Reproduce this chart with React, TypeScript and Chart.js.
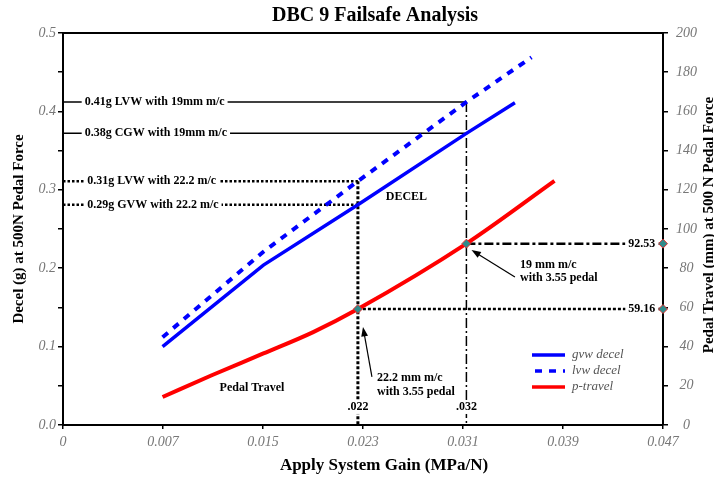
import React, { useEffect, useRef } from 'react';
import { Chart, registerables } from 'chart.js';

Chart.register(...registerables);

const SERIF = "'Liberation Serif', 'Times New Roman', 'DejaVu Serif', serif";

const TITLE = 'DBC 9 Failsafe Analysis';
const X_TITLE = 'Apply System Gain (MPa/N)';
const Y_TITLE = 'Decel (g) at 500N Pedal Force';
const Y2_TITLE = 'Pedal Travel (mm) at 500 N Pedal Force';

// x axis: evenly spaced ticks with the printed labels
const xTickValues = [0, 0.00783, 0.01567, 0.0235, 0.03133, 0.03917, 0.047];
const xTickLabels = ['0', '0.007', '0.015', '0.023', '0.031', '0.039', '0.047'];
const yTickLabels = ['0.0', '0.1', '0.2', '0.3', '0.4', '0.5'];

// gvw decel (solid blue)
const gvwGain = [0.0078, 0.0157, 0.0231, 0.0316, 0.0354];
const gvwDecel = [0.1, 0.204, 0.281, 0.372, 0.411];
// lvw decel (dashed blue)
const lvwGain = [0.0078, 0.0157, 0.0231, 0.0316, 0.0367];
const lvwDecel = [0.112, 0.221, 0.311, 0.412, 0.469];
// pedal travel (red, right axis)
const travelGain = [0.0078, 0.0117, 0.0157, 0.0196, 0.0231, 0.0316, 0.0385];
const pedalTravel = [14.3, 25.5, 36.5, 47.4, 59.16, 92.53, 124.5];

// reference decel levels
const refDecel = [0.412, 0.372, 0.311, 0.281];
const refEndGain = [0.0316, 0.0316, 0.0231, 0.0231];
const refLabels = [
  '0.41g LVW with 19mm m/c',
  '0.38g CGW with 19mm m/c',
  '0.31g LVW with 22.2 m/c',
  '0.29g GVW with 22.2 m/c',
];
const refLabelGain = [0.0017, 0.0017, 0.0019, 0.0019];

// marked operating points
const markGain = [0.0231, 0.0316];
const markGainLabels = ['.022', '.032'];
const markTravel = [59.16, 92.53];
const markTravelLabels = ['59.16', '92.53'];
const X_MAX = 0.047;

const pts = (xs: number[], ys: number[]) => xs.map((x, i) => ({ x, y: ys[i] }));

function boxText(ctx: CanvasRenderingContext2D, text: string, px: number, py: number, align: CanvasTextAlign) {
  const w = ctx.measureText(text).width;
  const left = align === 'left' ? px : align === 'right' ? px - w : px - w / 2;
  ctx.fillStyle = '#fff';
  ctx.fillRect(left - 3, py - 7, w + 6, 14);
  ctx.fillStyle = '#000';
  ctx.textAlign = align;
  ctx.textBaseline = 'middle';
  ctx.fillText(text, px, py);
}

function arrow(ctx: CanvasRenderingContext2D, x0: number, y0: number, x1: number, y1: number) {
  ctx.strokeStyle = '#000';
  ctx.fillStyle = '#000';
  ctx.lineWidth = 1.2;
  ctx.setLineDash([]);
  const a = Math.atan2(y1 - y0, x1 - x0);
  const L = 10;
  const W = 0.35;
  ctx.beginPath();
  ctx.moveTo(x0, y0);
  ctx.lineTo(x1 - 6 * Math.cos(a), y1 - 6 * Math.sin(a));
  ctx.stroke();
  ctx.beginPath();
  ctx.moveTo(x1, y1);
  ctx.lineTo(x1 - L * Math.cos(a - W), y1 - L * Math.sin(a - W));
  ctx.lineTo(x1 - L * Math.cos(a + W), y1 - L * Math.sin(a + W));
  ctx.closePath();
  ctx.fill();
}

const annotPlugin = {
  id: 'annot',
  afterDatasetsDraw(chart: any) {
    const { ctx, chartArea: ca, scales } = chart;
    const xs = scales.x;
    const ys = scales.y;
    const y1 = scales.y1;
    ctx.save();
    // top frame line
    ctx.strokeStyle = '#000';
    ctx.lineWidth = 2;
    ctx.setLineDash([]);
    ctx.beginPath();
    ctx.moveTo(ca.left, ca.top);
    ctx.lineTo(ca.right + 1, ca.top);
    ctx.stroke();

    ctx.font = `bold 12px ${SERIF}`;
    refLabels.forEach((t, i) => {
      boxText(ctx, t, xs.getPixelForValue(refLabelGain[i]), ys.getPixelForValue(refDecel[i]), 'left');
    });
    markTravelLabels.forEach((t, i) => {
      boxText(ctx, t, xs.getPixelForValue(0.0464), y1.getPixelForValue(markTravel[i]), 'right');
    });
    markGainLabels.forEach((t, i) => {
      boxText(ctx, t, xs.getPixelForValue(markGain[i]), ys.getPixelForValue(0.023), 'center');
    });

    ctx.fillStyle = '#000';
    ctx.textBaseline = 'middle';
    ctx.textAlign = 'center';
    ctx.fillText('DECEL', xs.getPixelForValue(0.0269), ys.getPixelForValue(0.291));
    ctx.fillText('Pedal Travel', xs.getPixelForValue(0.0148), y1.getPixelForValue(18.9));
    ctx.textAlign = 'left';
    ctx.fillText('22.2 mm m/c', xs.getPixelForValue(0.0246), y1.getPixelForValue(24));
    ctx.fillText('with 3.55 pedal', xs.getPixelForValue(0.0246), y1.getPixelForValue(16.8));
    ctx.fillText('19 mm m/c', xs.getPixelForValue(0.0358), y1.getPixelForValue(81.6));
    ctx.fillText('with 3.55 pedal', xs.getPixelForValue(0.0358), y1.getPixelForValue(75));

    arrow(ctx, xs.getPixelForValue(0.0242), y1.getPixelForValue(24.5), xs.getPixelForValue(0.0235), y1.getPixelForValue(50));
    arrow(ctx, xs.getPixelForValue(0.0354), y1.getPixelForValue(75.5), xs.getPixelForValue(0.0320), y1.getPixelForValue(89.3));

    // legend
    const items = [
      { label: 'gvw decel', color: '#0000ff', dash: [] as number[] },
      { label: 'lvw decel', color: '#0000ff', dash: [7, 7] },
      { label: 'p-travel', color: '#ff0000', dash: [] as number[] },
    ];
    const lx0 = ca.right - 131;
    const lx1 = ca.right - 98;
    const lys = [ca.bottom - 70, ca.bottom - 54, ca.bottom - 38];
    ctx.font = `italic 13px ${SERIF}`;
    items.forEach((it, i) => {
      ctx.strokeStyle = it.color;
      ctx.lineWidth = 3.5;
      ctx.setLineDash(it.dash);
      ctx.lineDashOffset = -3;
      ctx.beginPath();
      ctx.moveTo(lx0, lys[i]);
      ctx.lineTo(lx1, lys[i]);
      ctx.stroke();
      ctx.setLineDash([]);
      ctx.fillStyle = '#555';
      ctx.textAlign = 'left';
      ctx.textBaseline = 'middle';
      ctx.fillText(it.label, ca.right - 91, lys[i]);
    });
    ctx.restore();
  },
  afterDraw(chart: any) {
    const { ctx, chartArea: ca } = chart;
    ctx.save();
    ctx.fillStyle = '#000';
    ctx.textAlign = 'center';
    ctx.textBaseline = 'middle';
    ctx.font = `bold 20px ${SERIF}`;
    ctx.fillText(TITLE, 375, 16);
    ctx.font = `bold 17px ${SERIF}`;
    ctx.fillText(X_TITLE, 384, 466);
    ctx.translate(709, (ca.top + ca.bottom) / 2 - 4);
    ctx.rotate(-Math.PI / 2);
    ctx.font = `bold 15px ${SERIF}`;
    ctx.fillText(Y2_TITLE, 0, 0);
    ctx.restore();
  },
};

const tickFont = { family: SERIF, size: 14, style: 'italic' as const };
const TICK_COLOR = '#777';

export default function App() {
  const ref = useRef<HTMLCanvasElement>(null);
  useEffect(() => {
    const line = (extra: any) => ({ pointRadius: 0, fill: false, tension: 0, ...extra });
    const datasets: any[] = [
      {
        label: 'marks',
        type: 'line',
        data: [
          ...pts(markGain, markTravel),
          ...markTravel.map((t) => ({ x: X_MAX, y: t })),
        ],
        yAxisID: 'y1',
        showLine: false,
        pointStyle: 'rectRot',
        pointRadius: 4.5,
        pointBackgroundColor: '#2e8b8b',
        pointBorderColor: '#e03030',
        pointBorderWidth: 1,
        clip: false,
      },
      line({
        label: 'p-travel',
        data: pts(travelGain, pedalTravel),
        yAxisID: 'y1',
        borderColor: '#ff0000',
        borderWidth: 4,
        cubicInterpolationMode: 'monotone',
      }),
      line({
        label: 'gvw decel',
        data: pts(gvwGain, gvwDecel),
        yAxisID: 'y',
        borderColor: '#0000ff',
        borderWidth: 3.5,
      }),
      line({
        label: 'lvw decel',
        data: pts(lvwGain, lvwDecel),
        yAxisID: 'y',
        borderColor: '#0000ff',
        borderWidth: 4,
        borderDash: [7, 7],
      }),
    ];
    refDecel.forEach((d, i) => {
      const dotted = i >= 2;
      datasets.push(
        line({
          label: 'ref' + i,
          data: [
            { x: 0, y: d },
            { x: refEndGain[i], y: d },
          ],
          yAxisID: 'y',
          borderColor: '#000',
          borderWidth: dotted ? 2.5 : 1.5,
          borderDash: dotted ? [2.5, 2] : [],
          clip: false,
        })
      );
    });
    // vertical drop lines
    datasets.push(
      line({
        label: 'v022',
        data: [
          { x: markGain[0], y: refDecel[2] },
          { x: markGain[0], y: 0 },
        ],
        yAxisID: 'y',
        borderColor: '#000',
        borderWidth: 3,
        borderDash: [3, 2],
      }),
      line({
        label: 'v032',
        data: [
          { x: markGain[1], y: refDecel[0] },
          { x: markGain[1], y: 0 },
        ],
        yAxisID: 'y',
        borderColor: '#000',
        borderWidth: 1.5,
        borderDash: [10, 3, 2, 3],
      }),
      line({
        label: 'h5916',
        data: [
          { x: markGain[0], y: markTravel[0] },
          { x: X_MAX, y: markTravel[0] },
        ],
        yAxisID: 'y1',
        borderColor: '#000',
        borderWidth: 2.5,
        borderDash: [3, 2],
      }),
      line({
        label: 'h9253',
        data: [
          { x: markGain[1], y: markTravel[1] },
          { x: X_MAX, y: markTravel[1] },
        ],
        yAxisID: 'y1',
        borderColor: '#000',
        borderWidth: 2.5,
        borderDash: [9, 3, 3, 3],
      })
    );

    const chart = new Chart(ref.current as HTMLCanvasElement, {
      type: 'line',
      data: { datasets },
      options: {
        animation: false,
        responsive: false,
        devicePixelRatio: 1,
        layout: { padding: { top: 33, left: 0, right: 0, bottom: 0 } },
        plugins: {
          legend: { display: false },
          title: { display: false },
          tooltip: { enabled: false },
        },
        scales: {
          x: {
            type: 'linear',
            min: 0,
            max: X_MAX,
            afterFit: (s: any) => {
              s.height = 54;
            },
            afterBuildTicks: (s: any) => {
              s.ticks = xTickValues.map((v) => ({ value: v }));
            },
            ticks: {
              color: TICK_COLOR,
              font: tickFont,
              padding: 5,
              maxRotation: 0,
              autoSkip: false,
              callback: (_v: any, i: number) => xTickLabels[i],
            },
            grid: { display: true, drawOnChartArea: false, tickLength: 4, color: '#000', lineWidth: 1.5 },
            border: { display: true, color: '#000', width: 2 },
            title: { display: false, text: X_TITLE },
          },
          y: {
            type: 'linear',
            position: 'left',
            min: 0,
            max: 0.5,
            afterFit: (s: any) => {
              s.width = 63;
            },
            ticks: {
              stepSize: 0.05,
              color: TICK_COLOR,
              font: tickFont,
              padding: 2,
              autoSkip: false,
              callback: (_v: any, i: number) => (i % 2 === 0 ? yTickLabels[i / 2] : ''),
            },
            grid: { display: true, drawOnChartArea: false, tickLength: 5, color: '#000', lineWidth: 1.5 },
            border: { display: true, color: '#000', width: 2 },
            title: {
              display: true,
              text: Y_TITLE,
              color: '#000',
              font: { family: SERIF, size: 15, weight: 'bold' },
              padding: { top: 10, bottom: 0 },
            },
          },
          y1: {
            type: 'linear',
            position: 'right',
            min: 0,
            max: 200,
            afterFit: (s: any) => {
              s.width = 51;
            },
            ticks: {
              stepSize: 20,
              color: TICK_COLOR,
              font: tickFont,
              padding: 8,
              crossAlign: 'center',
              autoSkip: false,
            },
            grid: { display: true, drawOnChartArea: false, tickLength: 5, color: '#000', lineWidth: 1.5 },
            border: { display: true, color: '#000', width: 2 },
            title: { display: false, text: Y2_TITLE },
          },
        },
      },
      plugins: [annotPlugin],
    } as any);
    return () => chart.destroy();
  }, []);

  return (
    <div style={{ position: 'absolute', left: 0, top: 0, width: 714, height: 479, background: '#fff' }}>
      <canvas ref={ref} width={714} height={479} style={{ display: 'block' }} />
    </div>
  );
}
